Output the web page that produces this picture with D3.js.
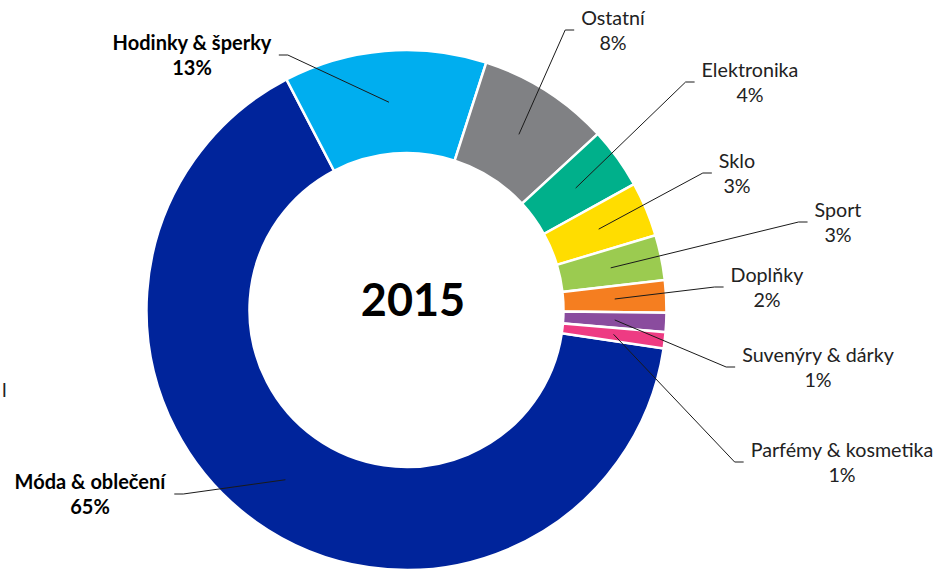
<!DOCTYPE html>
<html>
<head>
<meta charset="utf-8">
<script src="https://cdn.jsdelivr.net/npm/d3@7"></script>
<style>
  body { margin: 0; background: #fff; }
  svg { display: block; }
  text { font-family: Lato, "Open Sans", sans-serif; fill: #111; }
</style>
</head>
<body>
<div class="vis-donut"></div>
<script>
// data (share of the year, in %)
const categories = ["Móda & oblečení", "Hodinky & šperky", "Ostatní", "Elektronika", "Sklo",
    "Sport", "Doplňky", "Suvenýry & dárky", "Parfémy & kosmetika"];
const shares = [65, 12.6, 8.2, 3.8, 3.4, 2.8, 2.0, 1.2, 1.0];
const boldCategories = ["Móda & oblečení", "Hodinky & šperky"];
const title = "2015";

const colors = ["#00249b", "#00aeef", "#808184", "#00b08b", "#ffdd00",
    "#9bcb50", "#f57e20", "#8a4c9e", "#ee3b83"];

// where the labels sit (text centre, first baseline) - placed by hand like in the original
const labelPos = {
    "Móda & oblečení": [90, 489],
    "Hodinky & šperky": [192, 50],
    "Ostatní": [613, 25],
    "Elektronika": [750, 77],
    "Sklo": [737, 168],
    "Sport": [838, 217],
    "Doplňky": [767, 282],
    "Suvenýry & dárky": [818, 362],
    "Parfémy & kosmetika": [842, 457]
};

const config = {
    width: 940,
    height: 571,
    cx: 406.5,
    cy: 310,
    outer: 260,
    inner: 157,
    startDeg: 98.5
};

const draw = () => {
    const svg = d3.select(".vis-donut")
        .append("svg")
        .attr("width", config.width)
        .attr("height", config.height);

    const g = svg.append("g")
        .attr("transform", "translate(" + config.cx + "," + config.cy + ")");

    const data = categories.map((c, i) => ({ name: c, value: shares[i], color: colors[i] }));
    const total = d3.sum(shares);

    const start = config.startDeg * Math.PI / 180;
    const pie = d3.pie()
        .sort(null)
        .value(d => d.value)
        .startAngle(start)
        .endAngle(start + 2 * Math.PI);

    const arc = d3.arc()
        .innerRadius(config.inner)
        .outerRadius(config.outer);

    const arcs = pie(data);

    g.selectAll(".slice")
        .data(arcs)
        .enter()
        .append("path")
        .attr("class", "slice")
        .attr("d", arc)
        .attr("fill", d => d.data.color)
        .attr("stroke", "#fff")
        .attr("stroke-width", 2.5);

    // centre title
    g.append("text")
        .attr("x", 6.5)
        .attr("y", 6)
        .attr("text-anchor", "middle")
        .style("font-weight", "bold")
        .style("font-size", "45px")
        .style("fill", "#000")
        .text(title);

    // labels
    const labels = svg.append("g");
    arcs.forEach(d => {
        const name = d.data.name;
        const pos = labelPos[name];
        const bold = boldCategories.indexOf(name) >= 0;
        const t = labels.append("text")
            .attr("text-anchor", "middle")
            .style("font-size", bold ? "20px" : "19.7px")
            .style("font-weight", bold ? "bold" : "normal")
            .style("fill", bold ? "#000" : "#222");
        t.append("tspan")
            .attr("x", pos[0])
            .attr("y", pos[1])
            .text(name);
        t.append("tspan")
            .attr("x", pos[0])
            .attr("y", pos[1] + 25)
            .text(Math.round(d.data.value / total * 100) + "%");

        // leader line: centroid -> elbow -> next to the label
        const firstLine = t.select("tspan").node().getBBox();
        const c = arc.centroid(d);
        const px = c[0] + config.cx, py = c[1] + config.cy;
        const right = pos[0] > config.cx;
        const endX = right ? firstLine.x - 7 : firstLine.x + firstLine.width + 7;
        const elbowX = right ? endX - 9 : endX + 9;
        const ly = pos[1] + 5;
        labels.append("path")
            .attr("d", d3.line()([[px, py], [elbowX, ly], [endX, ly]]))
            .attr("fill", "none")
            .attr("stroke", "#1a1a1a")
            .attr("stroke-width", 1);
    });

    // last letter of a neighbouring label at the left frame edge
    svg.append("text")
        .attr("x", 2)
        .attr("y", 397)
        .style("font-size", "19.7px")
        .style("fill", "#222")
        .text("l");

    return svg;
};

draw();
</script>
</body>
</html>
